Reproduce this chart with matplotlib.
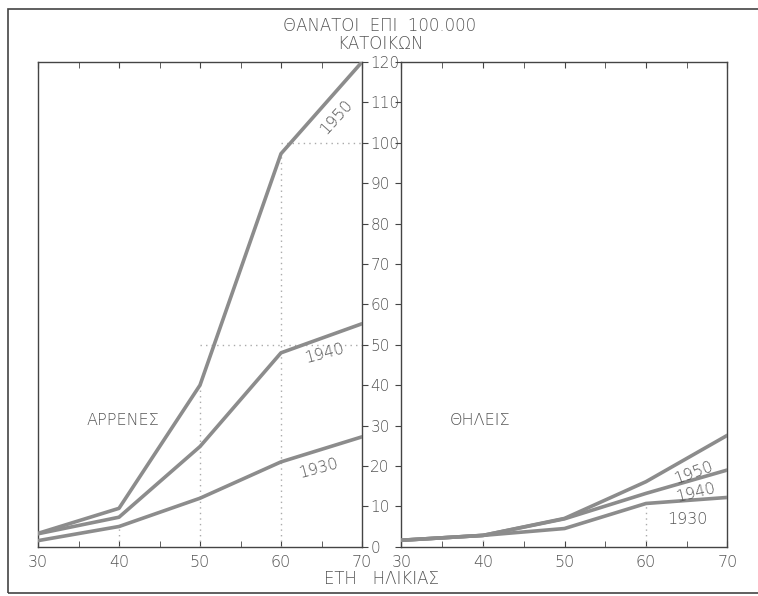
import matplotlib
matplotlib.use("Agg")
import matplotlib.pyplot as plt
from matplotlib.patches import Rectangle
from matplotlib.ticker import MultipleLocator

ages = [30, 40, 50, 60, 70]
years = ["1930", "1940", "1950"]
male_1930 = [1.5, 5.0, 12.0, 21.0, 27.2]
male_1940 = [3.2, 7.3, 24.8, 48.0, 55.2]
male_1950 = [3.3, 9.5, 40.0, 97.3, 120.0]
fem_1930 = [1.6, 2.8, 4.5, 10.7, 12.2]
fem_1940 = [1.6, 2.8, 6.9, 13.2, 19.0]
fem_1950 = [1.6, 2.8, 7.0, 16.1, 27.6]
yticks = list(range(0, 121, 10))
xticks = [30, 40, 50, 60, 70]

title = "ΘΑΝΑΤΟΙ  ΕΠΙ  100.000\nΚΑΤΟΙΚΩΝ"
xlabel = "ΕΤΗ   ΗΛΙΚΙΑΣ"
male_label = "ΑΡΡΕΝΕΣ"
female_label = "ΘΗΛΕΙΣ"

plt.rcParams['font.family'] = ['DejaVu Sans']
TXT = "#555555"
LINE = "#8c8c8c"
SPINE = "#444444"
FS = 11.5
FS_Y = 11
FS_T = 12

fig = plt.figure(figsize=(7.58, 5.96), dpi=100)
fig.patch.set_facecolor("white")
fig.add_artist(Rectangle((8/758, 1-593/596), 760/758, (593-9)/596, transform=fig.transFigure,
                         fill=False, edgecolor=SPINE, linewidth=1.2))

axL = fig.add_axes([38/758, 1-546.7/596, (362-38)/758, (546.7-62)/596])
axR = fig.add_axes([401.5/758, 1-546.7/596, (727.5-401.5)/758, (546.7-62)/596])

for ax in (axL, axR):
    ax.set_xlim(30, 70)
    ax.set_ylim(0, 120)
    ax.set_xticks(xticks)
    ax.xaxis.set_minor_locator(MultipleLocator(5))
    ax.set_xticklabels([str(t) for t in xticks], color=TXT, fontsize=FS, fontweight='light')
    ax.tick_params(axis='x', which='both', direction='in', length=4, color=SPINE,
                   top=True, bottom=True, pad=6)
    for s in ax.spines.values():
        s.set_color(SPINE)
        s.set_linewidth(1.0)

axL.yaxis.tick_right()
axL.set_yticks(yticks)
axL.set_yticklabels([str(t) for t in yticks], color=TXT, fontsize=FS_Y, fontweight='light')
axL.tick_params(axis='y', direction='out', length=4, color=SPINE, pad=2, left=False, right=True)
axR.set_yticks(yticks)
axR.set_yticklabels([])
axR.tick_params(axis='y', direction='out', length=4, color=SPINE, left=True, right=False)

# guide dotted lines
dot = dict(color="#aaaaaa", linestyle=(0, (1, 3)), linewidth=1.0)
axL.plot([40, 40], [0, male_1930[1]], **dot)
axL.plot([50, 50], [0, male_1950[2]], **dot)
axL.plot([60, 60], [0, male_1950[3]], **dot)
axL.plot([60, 70], [100, 100], **dot)
axL.plot([50, 70], [50, 50], **dot)
axR.plot([60, 60], [0, fem_1930[3]], **dot)
axR.plot([40, 40], [0, fem_1930[1]], **dot)

for ax, series in ((axL, (male_1930, male_1940, male_1950)), (axR, (fem_1930, fem_1940, fem_1950))):
    for vals in series:
        ax.plot(ages, vals, color=LINE, linewidth=2.6, solid_capstyle='round', zorder=3)

lab = dict(color=TXT, fontsize=FS, fontweight='light', ha='center', va='center')
axL.text(66.9, 106.4, years[2], rotation=48, **lab)
axL.text(65.4, 47.9, years[1], rotation=15, **lab)
axL.text(64.6, 19.4, years[0], rotation=15, **lab)
axR.text(65.9, 18.4, years[2], rotation=20, **lab)
axR.text(66.1, 13.4, years[1], rotation=14, **lab)
axR.text(65.1, 6.8, years[0], rotation=0, **lab)

axL.text(40.5, 31.3, male_label, **lab)
axR.text(39.7, 31.3, female_label, **lab)

fig.text(380/758, 1-35/596, title, color=TXT, fontsize=FS_T, fontweight='light',
         ha='center', va='center', linespacing=1.05)
fig.text(382/758, 1-579/596, xlabel, color=TXT, fontsize=FS_T, fontweight='light',
         ha='center', va='center')

fig.savefig("out.png", dpi=100, facecolor="white")
